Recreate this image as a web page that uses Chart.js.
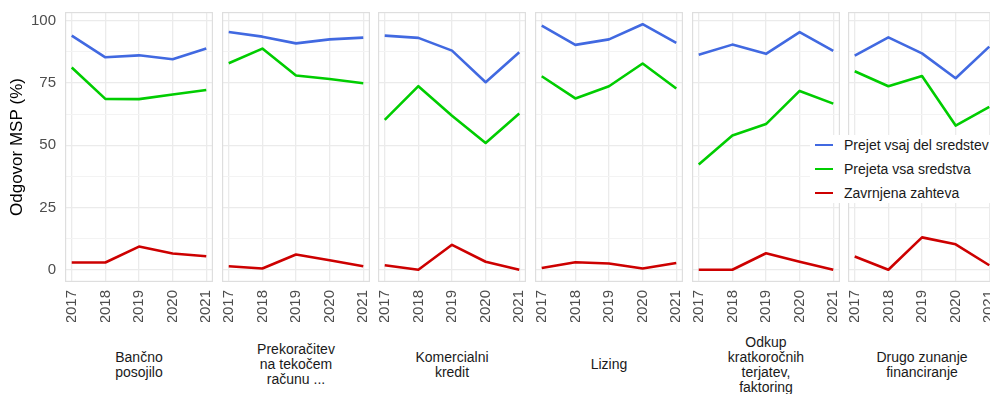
<!DOCTYPE html>
<html>
<head>
<meta charset="utf-8">
<script src="https://cdn.jsdelivr.net/npm/chart.js@4"></script>
<style>
    body { margin: 0; background: #fff; overflow: hidden; font-family: "Liberation Sans", Arial, sans-serif; }
    #wrap { position: relative; width: 990px; height: 394px; overflow: hidden; }
    canvas { position: absolute; }
    .strip { position: absolute; top: 330px; width: 148px; height: 69px; display: flex; align-items: center; justify-content: center; text-align: center; font-size: 14px; line-height: 15px; color: #1a1a1a; }
    .legend { position: absolute; left: 810px; top: 135px; width: 190px; height: 68px; background: #fff; }
    .legend .item { position: absolute; left: 0; height: 20px; display: flex; align-items: center; font-size: 14px; color: #1a1a1a; white-space: nowrap; }
    .legend .key { width: 18px; height: 2.6px; margin: 0 11px 0 5px; }
</style>
</head>
<body>
<div id="wrap"></div>
<script>
const years = [2017, 2018, 2019, 2020, 2021];
const panelLabels = [
    ['Bančno', 'posojilo'],
    ['Prekoračitev', 'na tekočem', 'računu ...'],
    ['Komercialni', 'kredit'],
    ['Lizing'],
    ['Odkup', 'kratkoročnih', 'terjatev,', 'faktoring'],
    ['Drugo zunanje', 'financiranje'],
];
const seriesNames = ['Prejet vsaj del sredstev', 'Prejeta vsa sredstva', 'Zavrnjena zahteva'];
const seriesColors = ['#4169E1', '#00CD00', '#CD0000'];
const yTicks = [0, 25, 50, 75, 100];

// one row per panel, values per year
const prejetDel = [
    [94.0, 85.3, 86.1, 84.5, 88.8],
    [95.5, 93.6, 90.9, 92.5, 93.2],
    [94.0, 93.1, 88.0, 75.3, 87.3],
    [98.0, 90.3, 92.5, 98.6, 91.1],
    [86.3, 90.4, 86.7, 95.4, 87.9],
    [86.0, 93.3, 86.9, 76.9, 89.6],
];
const prejetaVsa = [
    [81.2, 68.6, 68.5, 70.4, 72.2],
    [82.9, 88.8, 78.0, 76.6, 74.9],
    [60.2, 73.7, 61.8, 50.9, 62.7],
    [77.7, 68.8, 73.7, 82.8, 72.8],
    [42.3, 53.9, 58.5, 71.8, 66.7],
    [79.7, 73.7, 77.8, 57.9, 65.4],
];
const zavrnjena = [
    [2.9, 2.9, 9.3, 6.5, 5.4],
    [1.4, 0.5, 6.1, 3.8, 1.4],
    [1.8, 0.0, 10.0, 3.2, 0.0],
    [0.7, 3.0, 2.5, 0.5, 2.7],
    [0.0, 0.0, 6.6, 3.2, 0.0],
    [5.3, 0.0, 13.0, 10.2, 1.8],
];

const panelLeft = [65, 222, 378, 535, 692, 848];
const panelW = 148, panelH = 270, xAxisH = 40, yAxisW = 65;

const wrap = document.getElementById('wrap');

const panelBorder = {
    id: 'panelBorder',
    beforeDatasetsDraw(chart) {
        const { ctx, chartArea: a } = chart;
        ctx.save();
        ctx.strokeStyle = '#dedede';
        ctx.lineWidth = 1.2;
        ctx.strokeRect(a.left + 0.6, a.top + 0.6, a.right - a.left - 1.2, a.bottom - a.top - 1.2);
        ctx.restore();
    }
};

function makePanel(i) {
    const first = i === 0;
    const canvas = document.createElement('canvas');
    const w = panelW + (first ? yAxisW : 0);
    canvas.width = w;
    canvas.height = panelH + xAxisH;
    canvas.style.left = (panelLeft[i] - (first ? yAxisW : 0)) + 'px';
    canvas.style.top = '12px';
    wrap.appendChild(canvas);

    const rows = [prejetDel[i], prejetaVsa[i], zavrnjena[i]];
    new Chart(canvas, {
        type: 'line',
        data: {
            datasets: rows.map((vals, s) => ({
                label: seriesNames[s],
                data: years.map((y, k) => ({ x: y, y: vals[k] })),
                borderColor: seriesColors[s],
                borderWidth: 2.6,
                pointRadius: 0,
                tension: 0,
                borderJoinStyle: 'round',
                borderCapStyle: 'butt',
            }))
        },
        options: {
            responsive: false,
            animation: false,
            layout: { padding: 0 },
            plugins: { legend: { display: false }, tooltip: { enabled: false } },
            scales: {
                x: {
                    type: 'linear',
                    min: 2016.8,
                    max: 2021.2,
                    grid: { color: '#ebebeb', lineWidth: 1.3, drawTicks: false },
                    border: { display: false },
                    ticks: {
                        stepSize: 1,
                        includeBounds: false,
                        autoSkip: false,
                        minRotation: 90,
                        maxRotation: 90,
                        padding: 8,
                        color: '#4d4d4d',
                        font: { family: 'Liberation Sans, Arial', size: 15 },
                        callback: v => String(v),
                    },
                    afterFit: s => { s.height = xAxisH; s.paddingLeft = 0; s.paddingRight = 0; },
                },
                y: {
                    min: -4.93,
                    max: 103.5,
                    grid: {
                        drawTicks: false,
                        lineWidth: c => (yTicks.includes(c.tick.value) ? 1.3 : 1),
                        color: c => (yTicks.includes(c.tick.value) ? '#ebebeb' : '#f3f3f3'),
                    },
                    border: { display: false },
                    ticks: {
                        display: first,
                        stepSize: 12.5,
                        includeBounds: false,
                        autoSkip: false,
                        padding: 9,
                        color: '#4d4d4d',
                        font: { family: 'Liberation Sans, Arial', size: 15 },
                        callback: v => (yTicks.includes(v) ? String(v) : ''),
                    },
                    title: {
                        display: first,
                        text: 'Odgovor MSP (%)',
                        color: '#000',
                        font: { family: 'Liberation Sans, Arial', size: 17 },
                        padding: { top: 7, bottom: 0 },
                    },
                    afterFit: s => { s.width = first ? yAxisW : 0; s.paddingTop = 0; s.paddingBottom = 0; },
                }
            }
        },
        plugins: [panelBorder]
    });

    const strip = document.createElement('div');
    strip.className = 'strip';
    strip.style.left = panelLeft[i] + 'px';
    strip.innerHTML = panelLabels[i].join('<br>');
    wrap.appendChild(strip);
}

panelLabels.forEach((_, i) => makePanel(i));

// legend sits over the last panels, like the original
const legend = document.createElement('div');
legend.className = 'legend';
legend.innerHTML = seriesNames.map((n, s) =>
    `<div class="item" style="top:${s * 24}px"><span class="key" style="background:${seriesColors[s]}"></span>${n}</div>`
).join('');
wrap.appendChild(legend);
</script>
</body>
</html>
